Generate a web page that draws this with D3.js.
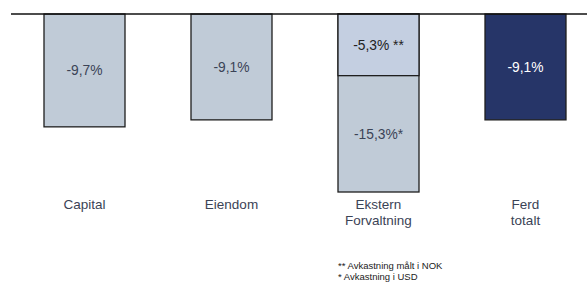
<!DOCTYPE html>
<html><head><meta charset="utf-8">
<script src="https://cdn.jsdelivr.net/npm/d3@7"></script>
<style>body{margin:0;background:#fff}svg{display:block}text{font-family:"Liberation Sans",Arial,sans-serif}</style>
</head><body><svg id="c" width="587" height="282"></svg>
<script>
const categories = [["Capital"],["Eiendom"],["Ekstern","Forvaltning"],["Ferd","totalt"]];
const mainValues = [-9.7, -9.1, -15.3, -9.1];
const mainSuffix = ["", "", "*", ""];
const overlayValues = [null, null, -5.3, null];
const overlaySuffix = [null, null, " **", null];
const footnotes = ["** Avkastning målt i NOK", "* Avkastning i USD"];

const fmt = v => d3.format(".1f")(v).replace(".", ",").replace("−","-") + "%";
const svg = d3.select("#c");
const idx = d3.range(categories.length);
const x = d3.scaleBand().domain(idx).range([11, 599]).paddingInner(0.449).paddingOuter(0.2245);
const y = d3.scaleLinear().domain([0, -15.3]).range([14, 192]);

const mainFill = ["#c0cbd7","#c0cbd7","#c0cbd7","#263568"];
const textCol = "#3b4356";

svg.selectAll("rect.main").data(idx).join("rect")
  .attr("x", i => x(i)).attr("width", x.bandwidth())
  .attr("y", y(0)).attr("height", i => y(mainValues[i]) - y(0))
  .attr("fill", i => mainFill[i]).attr("stroke", "#1e1e1e").attr("stroke-width", 1.3);
const ov = idx.filter(i => overlayValues[i] != null);
svg.selectAll("rect.ov").data(ov).join("rect")
  .attr("x", i => x(i)).attr("width", x.bandwidth())
  .attr("y", y(0)).attr("height", i => y(overlayValues[i]) - y(0))
  .attr("fill", "#c4cfe1").attr("stroke", "#1e1e1e").attr("stroke-width", 1.3);

svg.append("line").attr("x1", 11).attr("x2", 587).attr("y1", y(0)).attr("y2", y(0))
  .attr("stroke", "#111").attr("stroke-width", 1.5);

svg.selectAll("text.v").data(idx).join("text")
  .attr("x", i => x(i) + x.bandwidth()/2)
  .attr("y", i => {
    const top = overlayValues[i] != null ? y(overlayValues[i]) : y(0);
    return (top + y(mainValues[i]))/2 + 5;
  })
  .attr("text-anchor", "middle").attr("font-size", 13.8)
  .attr("fill", i => i === 3 ? "#fff" : textCol)
  .text(i => fmt(mainValues[i]) + mainSuffix[i]);
svg.selectAll("text.o").data(ov).join("text")
  .attr("x", i => x(i) + x.bandwidth()/2)
  .attr("y", i => (y(0) + y(overlayValues[i]))/2 + 5)
  .attr("text-anchor", "middle").attr("font-size", 13.8).attr("fill", "#222")
  .text(i => fmt(overlayValues[i]) + overlaySuffix[i]);

svg.selectAll("text.c").data(idx).join("text")
  .attr("x", i => x(i) + x.bandwidth()/2).attr("y", 209)
  .attr("text-anchor", "middle").attr("font-size", 13.5).attr("fill", textCol)
  .each(function(i){
    d3.select(this).selectAll("tspan").data(categories[i]).join("tspan")
      .attr("x", x(i) + x.bandwidth()/2).attr("dy", (d, k) => k ? 16 : 0).text(d => d);
  });

svg.selectAll("text.f").data(footnotes).join("text")
  .attr("x", 338).attr("y", (d, k) => 269 + k*10.5)
  .attr("font-size", 9.5).attr("fill", "#222").text(d => d);
</script></body></html>
